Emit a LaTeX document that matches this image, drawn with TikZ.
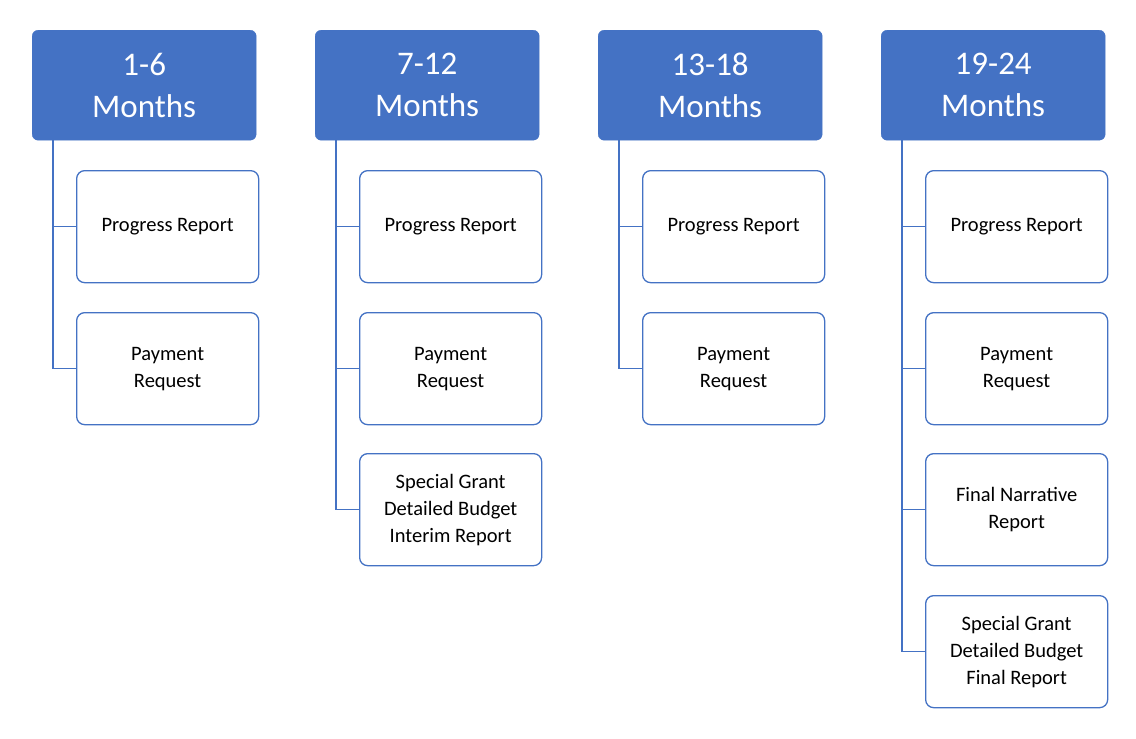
\documentclass[tikz,border=0pt]{standalone}
\usepackage{fontspec}
\setmainfont{Carlito}
\definecolor{hblue}{HTML}{4472C4}
\begin{document}
\begin{tikzpicture}[x=1pt,y=-1pt,
  head/.style={draw=hblue,fill=hblue,rounded corners=6pt,minimum width=224pt,minimum height=110pt,text=white,align=center,font=\fontsize{33}{42}\selectfont,anchor=north west,inner sep=0pt},
  item/.style={draw=hblue,line width=1.3pt,fill=white,rounded corners=8pt,minimum width=182pt,minimum height=112pt,align=center,font=\fontsize{20.5}{27}\selectfont,anchor=north west,inner sep=0pt},
  conn/.style={draw=hblue,line width=1.3pt}]
\useasboundingbox (0,0) rectangle (1136,739);
\foreach \i/\t in {0/1-6,1/7-12,2/13-18,3/19-24}{
  \node[head] (h\i) at (32+283*\i,30) {\t\\Months};
}
% column 1
\node[item] (a1) at (76,170) {Progress Report};
\node[item] (a2) at (76,312) {Payment\\Request};
\node[item] (b1) at (359,170) {Progress Report};
\node[item] (b2) at (359,312) {Payment\\Request};
\node[item] (b3) at (359,453) {Special Grant\\Detailed Budget\\Interim Report};
\node[item] (c1) at (642,170) {Progress Report};
\node[item] (c2) at (642,312) {Payment\\Request};
\node[item] (d1) at (925,170) {Progress Report};
\node[item] (d2) at (925,312) {Payment\\Request};
\node[item] (d3) at (925,453) {Final Narrative\\Report};
\node[item] (d4) at (925,595) {Special Grant\\Detailed Budget\\Final Report};
\foreach \h/\c in {h0/a1,h0/a2,h1/b1,h1/b2,h1/b3,h2/c1,h2/c2,h3/d1,h3/d2,h3/d3,h3/d4}{
  \draw[conn] ([xshift=21pt]\h.south west) |- (\c.west);
}
\end{tikzpicture}
\end{document}
